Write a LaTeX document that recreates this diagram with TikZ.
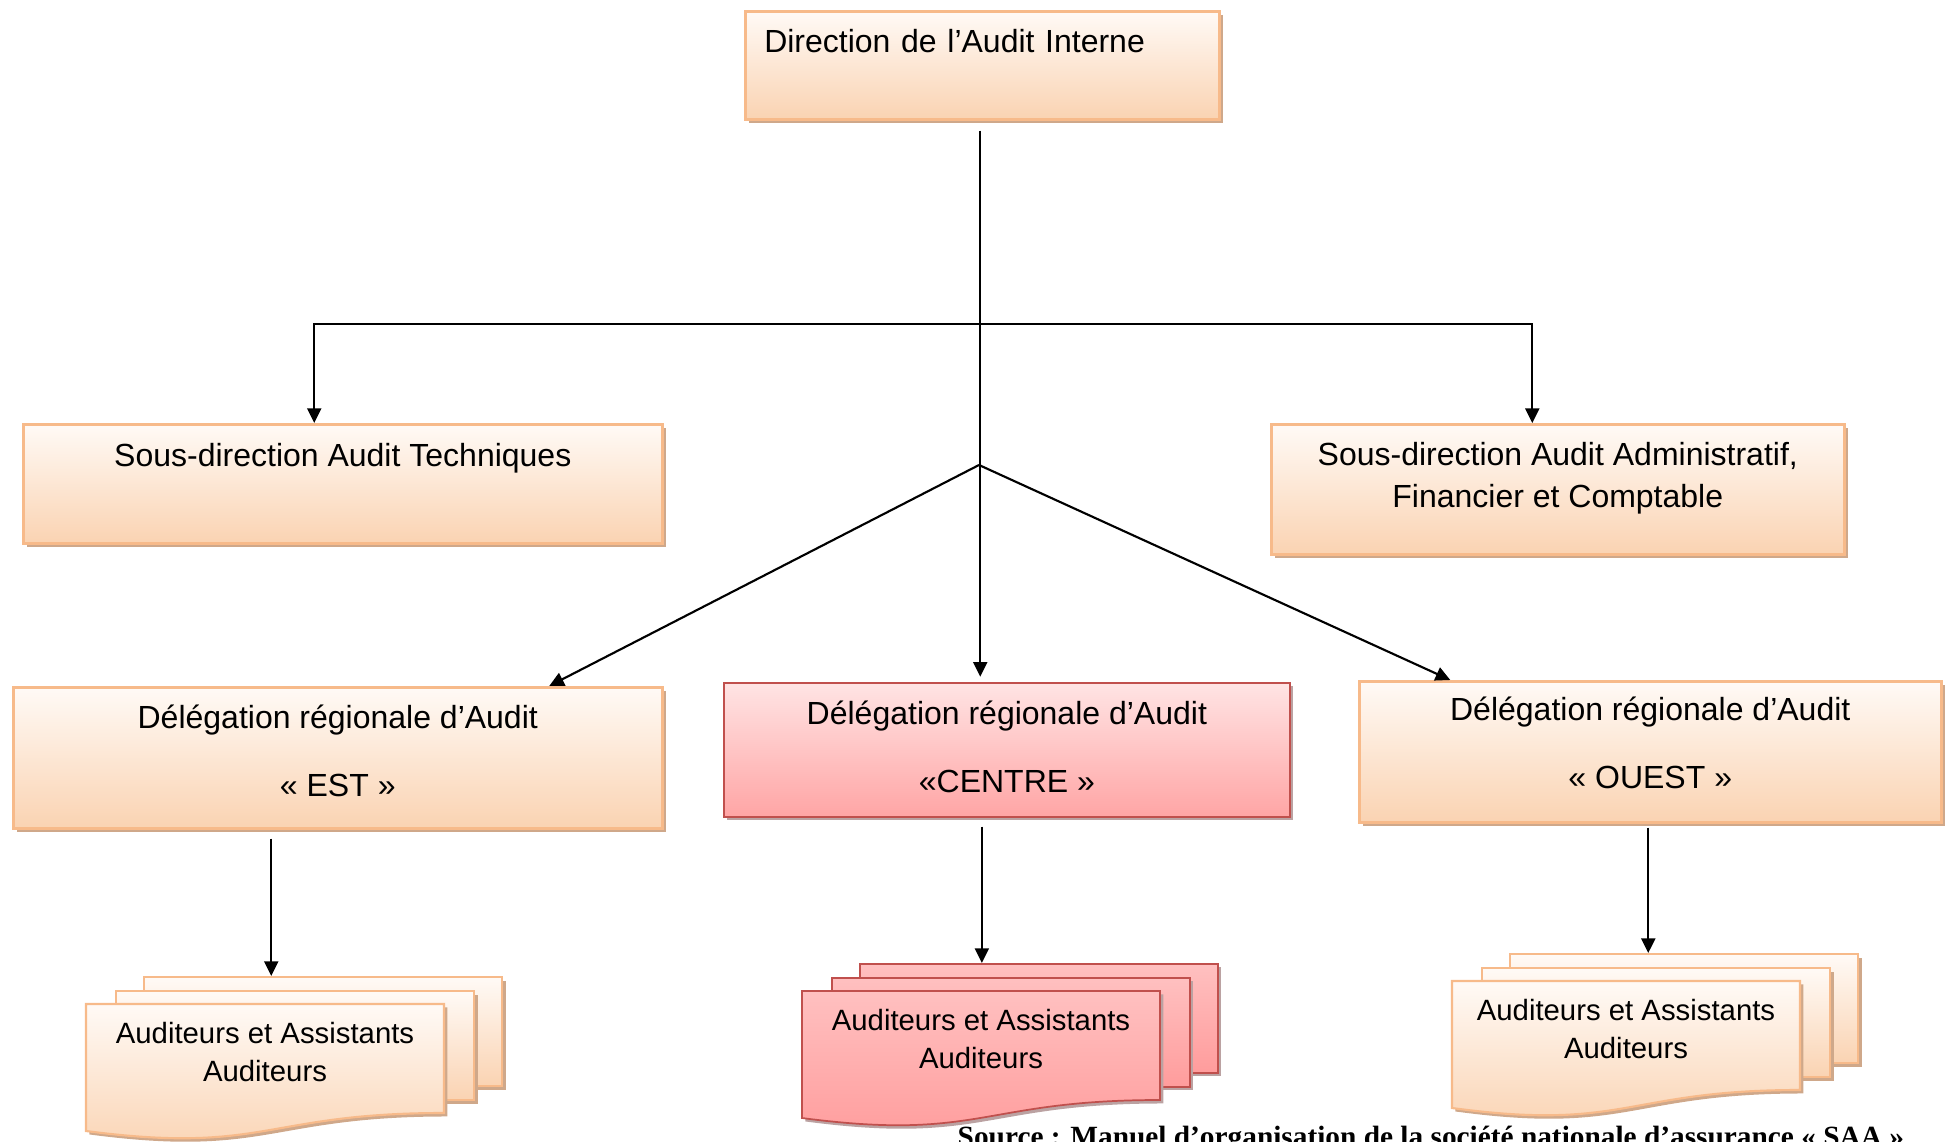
\documentclass[tikz,border=0pt]{standalone}
\usepackage{fontspec}
\setmainfont{Liberation Sans}
\newfontfamily\sourcefont{Liberation Serif}
\usetikzlibrary{arrows.meta,shadows}
\definecolor{peachtop}{HTML}{FFFAF6}
\definecolor{peachbot}{HTML}{FAD3B2}
\definecolor{peachline}{HTML}{F7BA8A}
\definecolor{peachshadow}{HTML}{CFA88A}
\definecolor{rosetop}{HTML}{FFE4E4}
\definecolor{rosebot}{HTML}{FFA5A5}
\definecolor{roseline}{HTML}{C0504D}
\definecolor{roseshadow}{HTML}{BBA2A2}
\definecolor{rosesheettop}{HTML}{FFC0C0}
\definecolor{rosesheetbot}{HTML}{FF9C9C}

\begin{document}
\begin{tikzpicture}[
  x=0.75pt,
  y=-0.75pt,
  every node/.style={font=\fontsize{24}{31.5}\selectfont, black},
  link/.style={black, line width=1.6pt, -{Triangle[length=11pt, width=10.5pt]}},
  peachbox/.style={draw=peachline, line width=1.9pt, top color=peachtop, bottom color=peachbot,
                   drop shadow={shadow xshift=2.6pt, shadow yshift=-2.6pt, fill=peachshadow, opacity=1}},
  rosebox/.style={draw=roseline, line width=1.3pt, top color=rosetop, bottom color=rosebot,
                  drop shadow={shadow xshift=2.6pt, shadow yshift=-2.6pt, fill=roseshadow, opacity=1}},
  orgbox/.style={rectangle, inner sep=0pt, text height=18pt, align=center, anchor=north west},
  peachsheet/.style={peachbox, line width=1.6pt},
  rosesheet/.style={rosebox, top color=rosesheettop, bottom color=rosesheetbot},
  stacktext/.style={font=\fontsize{22}{28.5}\selectfont, align=center}
]
  % ---- page frame, same size as the reference ----
  \useasboundingbox (0,0) rectangle (1945,1142);

  % ---- head of the audit direction ----
  \node[orgbox, peachbox, align=left, text width=327pt, inner xsep=14.25pt,
        minimum height=81pt, text depth=36.8pt] (dai) at (744,10)
        {Direction de l’Audit Interne};

  % ---- the two sub-directions ----
  \node[orgbox, peachbox, minimum width=479.25pt, minimum height=89.25pt,
        text depth=43.45pt] (sdt) at (22,423) {Sous-direction Audit Techniques};
  \node[orgbox, peachbox, minimum width=429.75pt, minimum height=97.5pt,
        text height=49.5pt, text depth=21.8pt] (sdafc) at (1270,423)
        {Sous-direction Audit Administratif,\\Financier et Comptable};

  % ---- the three regional delegations ----
  \node[orgbox, peachbox, minimum width=486.75pt, minimum height=105.75pt,
        text height=69pt, text depth=10.5pt] (est) at (12,686)
        {Délégation régionale d’Audit\\[19.5pt]« EST »};
  \node[orgbox, rosebox, minimum width=424.5pt, minimum height=100.5pt,
        text height=69pt, text depth=5.25pt] (centre) at (723,682)
        {Délégation régionale d’Audit\\[19.5pt]«CENTRE »};
  \node[orgbox, peachbox, minimum width=436.5pt, minimum height=105.75pt,
        text height=69pt, text depth=13.5pt] (ouest) at (1358,680)
        {Délégation régionale d’Audit\\[19.5pt]« OUEST »};

  % ---- stacks of auditors, three sheets each (front one with a wavy foot) ----
  \foreach \stk/\x/\y/\w/\sty in {est/143/976/358/peachsheet,
                                 centre/859/963/358/rosesheet,
                                 ouest/1509/953/348/peachsheet} {
    \node[\sty, anchor=north west, inner sep=0pt, minimum width=\w*0.75pt,
          minimum height=81.75pt] (\stk-back) at (\x,\y) {};
    \node[\sty, anchor=north west, inner sep=0pt, minimum width=\w*0.75pt,
          minimum height=81.75pt] (\stk-mid) at (\x-28,\y+14) {};
    \draw[\sty] (\x-57,\y+28) -- (\x-57+\w,\y+28) -- (\x-57+\w,\y+137)
      .. controls (\x-57+\w/2,\y+137) and (\x-57+\w/2,\y+178.6) .. (\x-57,\y+155) -- cycle;
    \node[stacktext] (\stk-text) at (\x-57+\w/2,\y+76) {Auditeurs et Assistants\\Auditeurs};
  }

  % ---- connectors ----
  \coordinate (trunk) at ([xshift=-1.5pt, yshift=-7.5pt]dai.south);
  \coordinate (split) at (979,324);
  \coordinate (hub)   at (979,465);
  \draw[link, shorten >=4pt] (trunk) -- (trunk |- centre.north);
  \draw[link] (split) -| ([xshift=-21.4pt]sdt.north);
  \draw[link] (split) -| ([xshift=-19.1pt]sdafc.north);
  \draw[link] (hub) -- ([xshift=158.6pt]est.north);
  \draw[link] (hub) -- ([xshift=-150pt]ouest.north);

  \coordinate (estfoot)    at ([xshift=-49.9pt, yshift=-6.75pt]est.south);
  \coordinate (centrefoot) at ([xshift=-18.75pt, yshift=-6.75pt]centre.south);
  \coordinate (ouestfoot)  at ([xshift=-1.5pt, yshift=-3pt]ouest.south);
  \draw[link] (estfoot) -- (estfoot |- est-back.north);
  \draw[link] (centrefoot) -- (centrefoot |- centre-back.north);
  \draw[link] (ouestfoot) -- (ouestfoot |- ouest-back.north);

  % ---- source line, cut by the page edge as in the scan ----
  \node[anchor=base west, font=\sourcefont\bfseries\fontsize{22}{26}\selectfont] (source)
    at (953,1146) {Source : Manuel d’organisation de la société nationale d’assurance « SAA »};
\end{tikzpicture}
\end{document}
